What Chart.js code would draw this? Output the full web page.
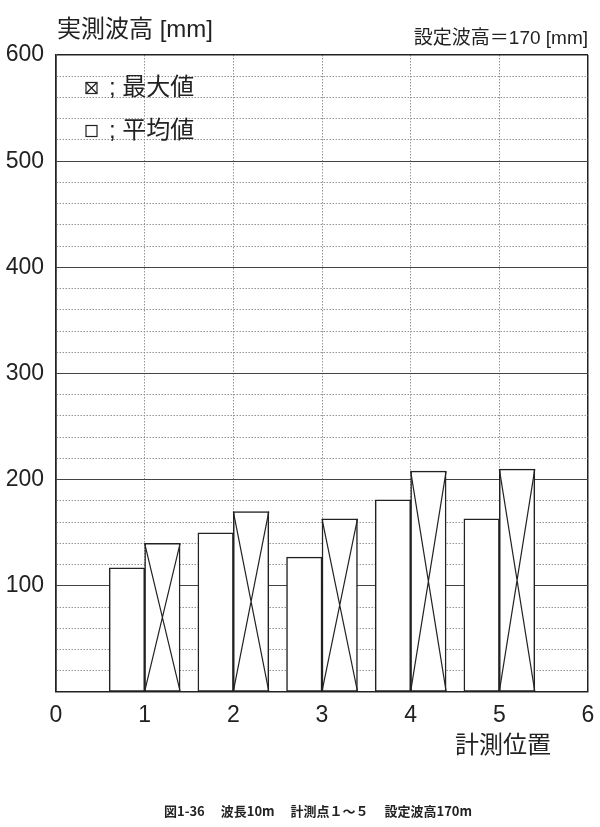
<!DOCTYPE html>
<html>
<head>
<meta charset="utf-8">
<script src="https://cdn.jsdelivr.net/npm/chart.js@4/dist/chart.umd.min.js"></script>
<style>
  html, body { margin: 0; padding: 0; background: #fff; }
  #wrap { width: 600px; height: 827px; }
</style>
</head>
<body>
<div id="wrap"><canvas id="chart1" width="600" height="827"></canvas></div>
<script>
var positions = [1, 2, 3, 4, 5];
var avgHeight = [117, 150, 127, 181, 163];   // 平均値
var maxHeight = [140, 170, 163, 208, 210];   // 最大値
var xTicks = [0, 1, 2, 3, 4, 5, 6];
var yMax = 600;

var barShift = 0.2;
var FONT = '"Liberation Sans", "Noto Sans CJK JP", sans-serif';
var INK = '#222';

// X mark inside every 最大値 bar
var crossBars = {
  id: 'crossBars',
  afterDatasetsDraw: function (chart) {
    var meta = chart.getDatasetMeta(1);
    var ctx = chart.ctx;
    ctx.save();
    ctx.strokeStyle = INK;
    ctx.lineWidth = 1.2;
    meta.data.forEach(function (bar) {
      var p = bar.getProps(['x', 'y', 'base', 'width'], true);
      var l = p.x - p.width / 2, r = p.x + p.width / 2;
      ctx.beginPath();
      ctx.moveTo(l, p.y); ctx.lineTo(r, p.base);
      ctx.moveTo(r, p.y); ctx.lineTo(l, p.base);
      ctx.stroke();
    });
    ctx.restore();
  }
};

// titles, in-plot legend, axis name, caption
var texts = {
  id: 'texts',
  afterDraw: function (chart) {
    var ctx = chart.ctx, a = chart.chartArea;
    ctx.save();
    ctx.fillStyle = INK;
    ctx.textBaseline = 'middle';

    ctx.font = '24px ' + FONT;
    ctx.textAlign = 'left';
    ctx.fillText('実測波高 [mm]', a.left + 1, 30);

    ctx.font = '19px ' + FONT;
    ctx.textAlign = 'right';
    ctx.fillText('設定波高＝170 [mm]', a.right, 39);

    // legend
    ctx.textAlign = 'left';
    ctx.font = '24px ' + FONT;
    ctx.strokeStyle = INK;
    ctx.lineWidth = 1.2;
    var bx = 86, s = 11;
    var rows = [{ y: 88, label: '; 最大値', cross: true }, { y: 131, label: '; 平均値', cross: false }];
    rows.forEach(function (row) {
      var ty = row.y - s / 2;
      ctx.fillStyle = '#fff';
      ctx.fillRect(bx, ty, s, s);
      ctx.strokeRect(bx, ty, s, s);
      if (row.cross) {
        ctx.beginPath();
        ctx.moveTo(bx, ty); ctx.lineTo(bx + s, ty + s);
        ctx.moveTo(bx + s, ty); ctx.lineTo(bx, ty + s);
        ctx.stroke();
      }
      ctx.fillStyle = INK;
      ctx.fillText(row.label, 109, row.y);
    });

    ctx.font = '24px ' + FONT;
    ctx.fillText('計測位置', 455, 746);

    ctx.font = 'bold 13px "Noto Sans CJK JP", sans-serif';
    ctx.textAlign = 'center';
    ctx.fillText('図1-36　 波長10m　 計測点１～５　 設定波高170m', 318, 811);
    ctx.restore();
  }
};

new Chart('chart1', {
  type: 'bar',
  data: {
    datasets: [{
      label: '平均値',
      data: positions.map(function (p, i) { return { x: p - barShift, y: avgHeight[i] }; }),
      backgroundColor: '#fff',
      borderColor: INK,
      borderWidth: 1.5,
      borderSkipped: false,
      grouped: false,
      categoryPercentage: 1,
      barPercentage: 1
    },
    {
      label: '最大値',
      data: positions.map(function (p, i) { return { x: p + barShift, y: maxHeight[i] }; }),
      backgroundColor: '#fff',
      borderColor: INK,
      borderWidth: 1.5,
      borderSkipped: false,
      grouped: false,
      categoryPercentage: 1,
      barPercentage: 1
    }]
  },
  options: {
    responsive: false,
    animation: false,
    layout: { padding: { top: 55, right: 12, left: 0, bottom: 0 } },
    plugins: {
      legend: { display: false },
      tooltip: { enabled: false }
    },
    scales: {
      x: {
        type: 'linear',
        offset: false,
        min: xTicks[0],
        max: xTicks[xTicks.length - 1],
        afterBuildTicks: function (scale) {
          scale.ticks = xTicks.map(function (v) { return { value: v }; });
        },
        afterFit: function (scale) {
          scale.height = 135;
          scale.paddingLeft = 0;
          scale.paddingRight = 0;
        },
        grid: {
          offset: false,
          drawTicks: false,
          color: function (c) { return (c.tick && c.tick.value > 0 && c.tick.value < 6) ? '#888' : INK; },
          lineWidth: function (c) { return (c.tick && c.tick.value > 0 && c.tick.value < 6) ? 0.9 : 1.5; }
        },
        border: {
          color: INK,
          width: 1.5,
          dash: function (c) { return (c.tick && c.tick.value > 0 && c.tick.value < 6) ? [1.5, 1.5] : []; }
        },
        ticks: {
          autoSkip: false,
          maxRotation: 0,
          padding: 10,
          color: INK,
          font: { family: FONT, size: 23 }
        }
      },
      y: {
        min: 0,
        max: yMax,
        afterFit: function (scale) {
          scale.width = 56;
          scale.paddingTop = 0;
          scale.paddingBottom = 0;
        },
        grid: {
          drawTicks: false,
          color: function (c) {
            if (!c.tick) return INK;
            if (c.tick.value === yMax) return INK;
            return c.tick.value % 100 === 0 ? '#444' : '#888';
          },
          lineWidth: function (c) {
            if (!c.tick) return 1.5;
            if (c.tick.value === yMax) return 1.5;
            return c.tick.value % 100 === 0 ? 1.1 : 0.9;
          }
        },
        border: {
          color: INK,
          width: 1.5,
          dash: function (c) { return (c.tick && c.tick.value % 100 !== 0) ? [1.5, 1.5] : []; }
        },
        ticks: {
          stepSize: 20,
          autoSkip: false,
          padding: 12,
          color: INK,
          font: { family: FONT, size: 23 },
          callback: function (v) { return (v % 100 === 0 && v > 0) ? v : ''; }
        }
      }
    }
  },
  plugins: [crossBars, texts]
});
</script>
</body>
</html>
